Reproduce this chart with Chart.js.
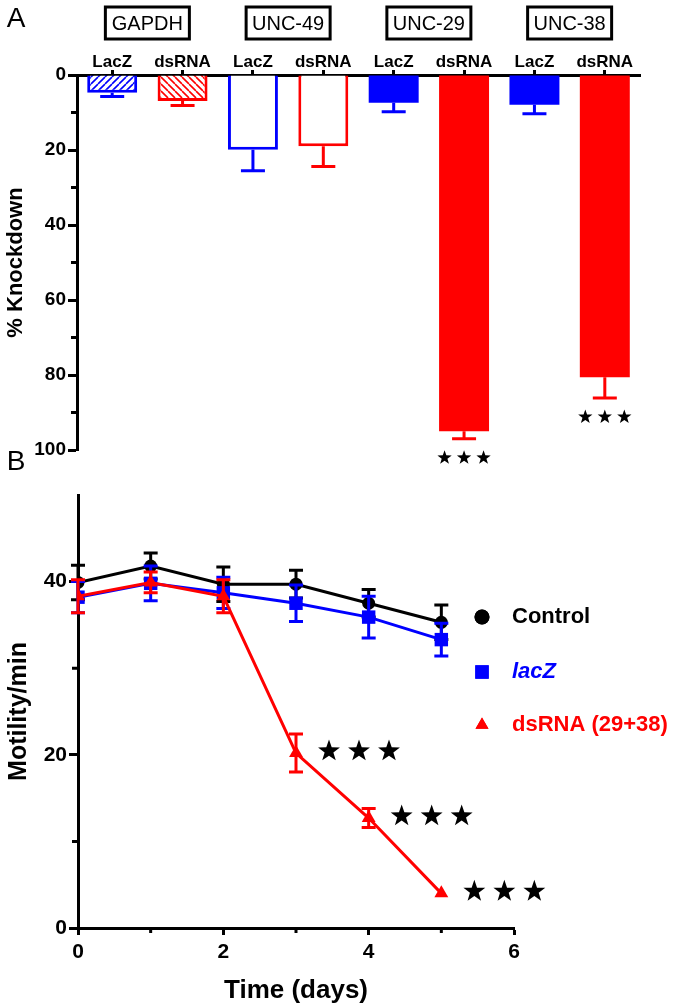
<!DOCTYPE html>
<html>
<head>
<meta charset="utf-8">
<script src="https://cdn.jsdelivr.net/npm/chart.js@4"></script>
<style>
  body { margin: 0; background: #fff; }
  #wrap { position: relative; width: 680px; height: 1008px; }
  canvas { position: absolute; left: 0; }
  #chartA { top: 0; }
  #chartB { top: 440px; }
</style>
</head>
<body>
<div id="wrap">
  <canvas id="chartA" width="680" height="475"></canvas>
  <canvas id="chartB" width="680" height="568"></canvas>
</div>
<script>
const FONT = "'Liberation Sans', Arial, Helvetica, sans-serif";

// Panel A - % knockdown per gene / treatment
const geneGroups = ['GAPDH', 'UNC-49', 'UNC-29', 'UNC-38'];
const treatments = ['LacZ', 'dsRNA', 'LacZ', 'dsRNA', 'LacZ', 'dsRNA', 'LacZ', 'dsRNA'];
const knockdown = [4.7, 6.9, 19.9, 19.0, 7.4, 95.0, 7.9, 80.6];
const knockdownErr = [1.0, 1.2, 5.6, 5.4, 2.4, 2.0, 2.4, 5.5];
const knockdownStars = [0, 0, 0, 0, 0, 3, 0, 3];
const barKind = ['hatchUp', 'hatchDown', 'open', 'open', 'solid', 'solid', 'solid', 'solid'];
const barColor = ['#0000ff', '#ff0000', '#0000ff', '#ff0000', '#0000ff', '#ff0000', '#0000ff', '#ff0000'];

// Panel B - motility over time
const days = [0, 1, 2, 3, 4, 5];
const controlMotility = [39.9, 41.8, 39.7, 39.7, 37.5, 35.3];
const controlErr = [2.0, 1.5, 2.0, 1.6, 1.6, 2.0];
const lacZMotility = [38.2, 39.8, 38.7, 37.5, 35.9, 33.3];
const lacZErr = [1.8, 2.0, 1.8, 2.1, 2.4, 1.9];
const dsRNAMotility = [38.3, 39.9, 38.3, 20.2, 12.7, 4.0];
const dsRNAErr = [1.9, 1.2, 1.9, 2.2, 1.1, 0];
const dsRNAStars = [0, 0, 0, 3, 3, 3];

function hatch(color, dir) {
    const s = 7;
    const c = document.createElement('canvas');
    c.width = c.height = s;
    const g = c.getContext('2d');
    g.fillStyle = '#fff';
    g.fillRect(0, 0, s, s);
    g.strokeStyle = color;
    g.lineWidth = 1.6;
    g.beginPath();
    for (let k = -1; k <= 1; k++) {
        if (dir > 0) { g.moveTo(k * s, s); g.lineTo(k * s + s, 0); }
        else { g.moveTo(k * s, 0); g.lineTo(k * s + s, s); }
    }
    g.stroke();
    return g.createPattern(c, 'repeat');
}

function drawStar(ctx, x, y, r) {
    ctx.beginPath();
    for (let k = 0; k < 10; k++) {
        const rad = k % 2 === 0 ? r : r * 0.4;
        const a = -Math.PI / 2 + k * Math.PI / 5;
        const px = x + rad * Math.cos(a), py = y + rad * Math.sin(a);
        if (k === 0) ctx.moveTo(px, py); else ctx.lineTo(px, py);
    }
    ctx.closePath();
    ctx.fill();
}

function drawStars(ctx, x0, y, n, gap, r) {
    ctx.fillStyle = '#000';
    for (let k = 0; k < n; k++) drawStar(ctx, x0 + k * gap, y, r);
}

// short minor tick marks (the unlabelled ones), none at the axis end
function minorTicks(ctx, scale, len, step) {
    ctx.save();
    ctx.strokeStyle = '#000';
    ctx.lineWidth = 3;
    ctx.beginPath();
    scale.ticks.forEach(t => {
        if (t.value % step === 0 || t.value === scale.max) return;
        const p = scale.getPixelForValue(t.value);
        if (scale.isHorizontal()) { ctx.moveTo(p, scale.top); ctx.lineTo(p, scale.top + len); }
        else { ctx.moveTo(scale.right, p); ctx.lineTo(scale.right - len, p); }
    });
    ctx.stroke();
    ctx.restore();
}

const hideMinor = step => c => (c.tick && c.tick.value % step !== 0 ? 'rgba(0,0,0,0)' : '#000');

const barFill = barKind.map((k, i) => {
    if (k === 'hatchUp') return hatch(barColor[i], 1);
    if (k === 'hatchDown') return hatch(barColor[i], -1);
    if (k === 'open') return '#fff';
    return barColor[i];
});
const barBorder = barKind.map(k => (k === 'solid' ? 0 : 3));

const panelAExtras = {
    id: 'panelAExtras',
    afterDatasetsDraw(chart) {
        const { ctx, scales: { x, y } } = chart;
        const bars = chart.getDatasetMeta(0).data;
        ctx.save();
        ctx.lineWidth = 3;
        ctx.lineCap = 'butt';
        bars.forEach((bar, i) => {
            const yEnd = y.getPixelForValue(knockdown[i]);
            const yErr = y.getPixelForValue(knockdown[i] + knockdownErr[i]);
            ctx.strokeStyle = barColor[i];
            ctx.beginPath();
            ctx.moveTo(bar.x, yEnd);
            ctx.lineTo(bar.x, yErr);
            ctx.moveTo(bar.x - 12, yErr);
            ctx.lineTo(bar.x + 12, yErr);
            ctx.stroke();
            if (knockdownStars[i]) drawStars(ctx, bar.x - 19.5, yErr + 19, knockdownStars[i], 19.5, 7.5);
        });

        // gene boxes above each pair
        ctx.font = '20px ' + FONT;
        ctx.textAlign = 'center';
        ctx.textBaseline = 'middle';
        ctx.fillStyle = '#000';
        ctx.strokeStyle = '#000';
        geneGroups.forEach((g, gi) => {
            const cx = (x.getPixelForValue(2 * gi) + x.getPixelForValue(2 * gi + 1)) / 2;
            ctx.strokeRect(cx - 42, 7, 84, 32);
            ctx.fillText(g, cx, 24);
        });

        ctx.font = '28px ' + FONT;
        ctx.fillText('A', 16, 19);
        ctx.restore();
        minorTicks(ctx, y, 6, 20);
    }
};

new Chart(document.getElementById('chartA'), {
    type: 'bar',
    data: {
        labels: treatments,
        datasets: [{
            data: knockdown,
            backgroundColor: barFill,
            borderColor: barColor,
            borderWidth: barBorder,
            barPercentage: 0.71,
            categoryPercentage: 1
        }]
    },
    options: {
        responsive: false,
        animation: false,
        layout: { padding: { left: 0, right: 40, top: 0, bottom: 25 } },
        plugins: { legend: { display: false }, tooltip: { enabled: false } },
        scales: {
            x: {
                position: 'top',
                grid: { drawOnChartArea: false, offset: false, tickLength: 5, tickWidth: 3, color: '#000' },
                border: { display: true, width: 3, color: '#000' },
                ticks: { color: '#000', padding: -3, maxRotation: 0, font: { family: FONT, size: 17, weight: 'bold' } },
                afterFit: s => { s.height = 75; }
            },
            y: {
                reverse: true,
                min: 0,
                max: 100,
                ticks: {
                    stepSize: 10,
                    color: '#000',
                    padding: 2,
                    callback: v => (v % 20 === 0 ? v : ''),
                    font: { family: FONT, size: 19, weight: 'bold' }
                },
                grid: { drawOnChartArea: false, tickLength: 9, tickWidth: 3, tickColor: hideMinor(20), color: '#000' },
                border: { display: true, width: 3, color: '#000' },
                title: { display: true, text: '% Knockdown', color: '#000', padding: { top: 3, bottom: 0 }, font: { family: FONT, size: 22, weight: 'bold' } },
                afterFit: s => { s.width = 77; }
            }
        }
    },
    plugins: [panelAExtras]
});

// Panel B
const seriesErr = [dsRNAErr, lacZErr, controlErr];
const seriesColor = ['#ff0000', '#0000ff', '#000000'];

const panelBExtras = {
    id: 'panelBExtras',
    afterDatasetDraw(chart, args) {
        const { ctx, scales: { x, y } } = chart;
        const i = args.index;
        const ds = chart.data.datasets[i];
        const errs = seriesErr[i];
        ctx.save();
        ctx.strokeStyle = seriesColor[i];
        ctx.lineWidth = 3;
        ds.data.forEach((p, k) => {
            if (!errs[k]) return;
            const px = x.getPixelForValue(p.x);
            const yl = y.getPixelForValue(p.y - errs[k]);
            const yh = y.getPixelForValue(p.y + errs[k]);
            ctx.beginPath();
            ctx.moveTo(px, yl); ctx.lineTo(px, yh);
            ctx.moveTo(px - 7, yl); ctx.lineTo(px + 7, yl);
            ctx.moveTo(px - 7, yh); ctx.lineTo(px + 7, yh);
            ctx.stroke();
        });
        ctx.restore();
    },
    afterDraw(chart) {
        const { ctx, scales: { x, y } } = chart;
        minorTicks(ctx, y, 6, 20);
        minorTicks(ctx, x, 5, 2);
        ctx.save();
        days.forEach((d, k) => {
            if (dsRNAStars[k]) {
                drawStars(ctx, x.getPixelForValue(d) + 33, y.getPixelForValue(dsRNAMotility[k]) - 2, dsRNAStars[k], 30, 11.5);
            }
        });

        // legend
        const lx = 482, tx = 512;
        const items = [
            { text: 'Control', color: '#000', style: 'circle', y: 177, italic: false },
            { text: 'lacZ', color: '#0000ff', style: 'rect', y: 232, italic: true },
            { text: 'dsRNA (29+38)', color: '#ff0000', style: 'triangle', y: 285, italic: false }
        ];
        items.forEach(it => {
            ctx.fillStyle = it.color;
            Chart.helpers.drawPoint(ctx, { pointStyle: it.style, radius: it.style === 'rect' ? 9.5 : 7.5, borderWidth: 0 }, lx, it.y);
            ctx.fill();
            ctx.font = (it.italic ? 'italic ' : '') + 'bold 22px ' + FONT;
            ctx.textAlign = 'left';
            ctx.textBaseline = 'middle';
            ctx.fillText(it.text, tx, it.y);
        });

        ctx.fillStyle = '#000';
        ctx.font = '28px ' + FONT;
        ctx.textAlign = 'center';
        ctx.textBaseline = 'middle';
        ctx.fillText('B', 16, 22);
        ctx.restore();
    }
};

function series(values) {
    return days.map((d, i) => ({ x: d, y: values[i] }));
}

new Chart(document.getElementById('chartB'), {
    type: 'line',
    data: {
        datasets: [
            { label: 'dsRNA (29+38)', data: series(dsRNAMotility), borderColor: '#ff0000', backgroundColor: '#ff0000', pointStyle: 'triangle', pointRadius: 8, pointBorderWidth: 0, borderWidth: 3, order: 0 },
            { label: 'lacZ', data: series(lacZMotility), borderColor: '#0000ff', backgroundColor: '#0000ff', pointStyle: 'rect', pointRadius: 9.5, pointBorderWidth: 0, borderWidth: 3, order: 1 },
            { label: 'Control', data: series(controlMotility), borderColor: '#000000', backgroundColor: '#000000', pointStyle: 'circle', pointRadius: 6.5, pointBorderWidth: 0, borderWidth: 3, order: 2 }
        ]
    },
    options: {
        responsive: false,
        animation: false,
        layout: { padding: { left: 0, right: 166, top: 55, bottom: 0 } },
        plugins: { legend: { display: false }, tooltip: { enabled: false } },
        scales: {
            x: {
                type: 'linear',
                min: 0,
                max: 6,
                ticks: {
                    stepSize: 1,
                    color: '#000',
                    padding: 5,
                    maxRotation: 0,
                    callback: v => (v % 2 === 0 ? v : ''),
                    font: { family: FONT, size: 21, weight: 'bold' }
                },
                grid: { drawOnChartArea: false, tickLength: 7, tickWidth: 3, tickColor: hideMinor(2), color: '#000' },
                border: { display: true, width: 3, color: '#000' },
                title: { display: true, text: 'Time (days)', color: '#000', padding: { top: 0, bottom: 2 }, font: { family: FONT, size: 26, weight: 'bold' } },
                afterFit: s => { s.height = 80; }
            },
            y: {
                min: 0,
                max: 50,
                ticks: {
                    stepSize: 10,
                    color: '#000',
                    padding: 2,
                    callback: v => (v % 20 === 0 ? v : ''),
                    font: { family: FONT, size: 21, weight: 'bold' }
                },
                grid: {
                    drawOnChartArea: false,
                    tickLength: 9,
                    tickWidth: 3,
                    tickColor: hideMinor(20),
                    color: '#000'
                },
                border: { display: true, width: 3, color: '#000' },
                title: { display: true, text: 'Motility/min', color: '#000', padding: { top: 4, bottom: 0 }, font: { family: FONT, size: 25, weight: 'bold' } },
                afterFit: s => { s.width = 78; }
            }
        }
    },
    plugins: [panelBExtras]
});
</script>
</body>
</html>
